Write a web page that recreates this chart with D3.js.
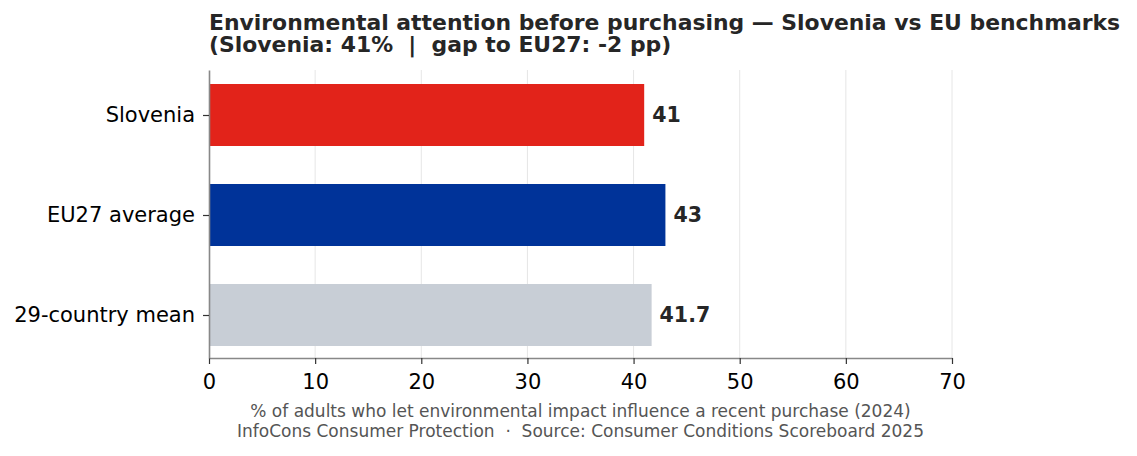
<!DOCTYPE html>
<html>
<head>
<meta charset="utf-8">
<script src="https://cdn.jsdelivr.net/npm/d3@7"></script>
<style>
  body { margin: 0; background: #fff; }
  svg { font-family: "DejaVu Sans", sans-serif; }
  text { white-space: pre; }
</style>
</head>
<body>
<div id="chart"></div>
<script>
// chart values
const categories = ["Slovenia", "EU27 average", "29-country mean"];
const values = [41, 43, 41.7];
const valueLabels = ["41", "43", "41.7"];
const barColors = ["#e2231a", "#003399", "#c8ced6"];
const xTicks = [0, 10, 20, 30, 40, 50, 60, 70];
const titleLines = [
    "Environmental attention before purchasing \u2014 Slovenia vs EU benchmarks",
    "(Slovenia: 41%  |  gap to EU27: -2 pp)"
];
const footLines = [
    "% of adults who let environmental impact influence a recent purchase (2024)",
    "InfoCons Consumer Protection  \u00b7  Source: Consumer Conditions Scoreboard 2025"
];

const width = 1137, height = 456;
const plot = {left: 209, right: 952, top: 70, bottom: 358};

const svg = d3.select("#chart").append("svg")
    .attr("width", width)
    .attr("height", height);

const x = d3.scaleLinear().domain([0, 70]).range([plot.left, plot.right]);
// category index -> y, with small margin like matplotlib
const y = d3.scaleLinear().domain([-0.45, 2.43]).range([plot.top, plot.bottom]);
const barH = y(0.62) - y(0);

// grid
svg.append("g")
    .selectAll("line")
    .data(xTicks.slice(1))
    .enter().append("line")
    .attr("x1", d => x(d)).attr("x2", d => x(d))
    .attr("y1", plot.top).attr("y2", plot.bottom)
    .style("stroke", "#e6e6e6")
    .style("stroke-width", 1);

// bars
svg.append("g")
    .selectAll("rect")
    .data(categories)
    .enter().append("rect")
    .attr("x", x(0))
    .attr("y", (d, i) => y(i) - barH / 2)
    .attr("width", (d, i) => x(values[i]) - x(0))
    .attr("height", barH)
    .style("fill", (d, i) => barColors[i]);

// value labels
svg.append("g")
    .selectAll("text")
    .data(categories)
    .enter().append("text")
    .attr("x", (d, i) => x(values[i]) + 8)
    .attr("y", (d, i) => y(i))
    .attr("dy", "0.36em")
    .text((d, i) => valueLabels[i])
    .style("font-size", "20.5px")
    .style("font-weight", "bold")
    .style("fill", "#262626");

// x axis
const xAxis = svg.append("g")
    .attr("transform", `translate(0,${plot.bottom})`)
    .call(d3.axisBottom(x).tickValues(xTicks).tickSize(6).tickPadding(10).tickSizeOuter(0));
xAxis.select(".domain").style("stroke", "#888").style("stroke-width", 1.6);
xAxis.selectAll(".tick line").style("stroke", "#333").style("stroke-width", 1.2);
xAxis.selectAll(".tick text")
    .style("font-size", "21px")
    .style("fill", "#000")
    .style("font-family", "DejaVu Sans");

// y axis
const yAxis = svg.append("g")
    .attr("transform", `translate(${plot.left},0)`)
    .call(d3.axisLeft(y).tickValues([0, 1, 2]).tickFormat(i => categories[i])
        .tickSize(6).tickPadding(8).tickSizeOuter(0));
yAxis.select(".domain").style("stroke", "#888").style("stroke-width", 1.6);
yAxis.selectAll(".tick line").style("stroke", "#333").style("stroke-width", 1.2);
yAxis.selectAll(".tick text")
    .style("font-size", "21px")
    .style("fill", "#000")
    .style("font-family", "DejaVu Sans");

// title (one text block, two lines)
const title = svg.append("text")
    .attr("y", 30)
    .style("font-size", "21.9px")
    .style("font-weight", "bold")
    .style("fill", "#262626");
title.selectAll("tspan")
    .data(titleLines)
    .enter().append("tspan")
    .attr("x", plot.left)
    .attr("dy", (d, i) => i === 0 ? 0 : 21.8)
    .text(d => d);

// footnote
const foot = svg.append("text")
    .attr("y", 417)
    .attr("text-anchor", "middle")
    .style("font-size", "17px")
    .style("fill", "#555");
foot.selectAll("tspan")
    .data(footLines)
    .enter().append("tspan")
    .attr("x", (plot.left + plot.right) / 2)
    .attr("dy", (d, i) => i === 0 ? 0 : 20)
    .text(d => d);
</script>
</body>
</html>
